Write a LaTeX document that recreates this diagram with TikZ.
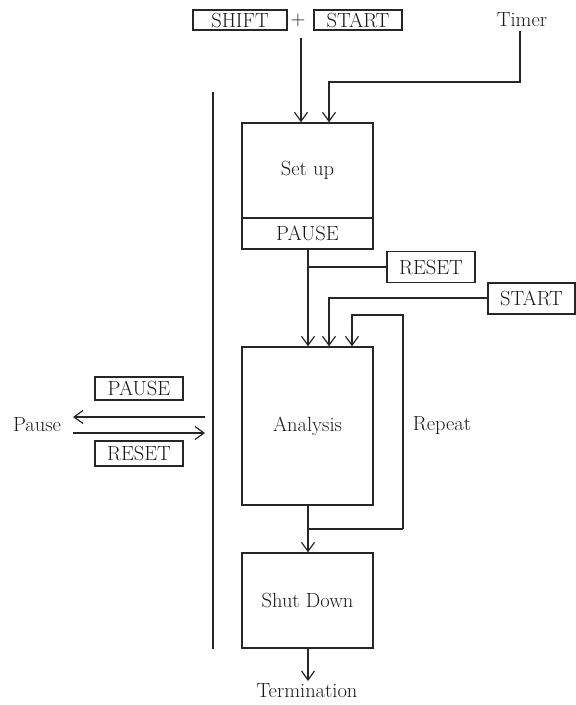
\documentclass[tikz,border=0pt]{standalone}
\usetikzlibrary{arrows.meta}
\begin{document}
\begin{tikzpicture}[x=1pt,y=-1pt,
  every node/.style={font=\fontsize{20.5}{23}\selectfont, inner sep=0pt, text=black!90},
  line/.style={line width=1.2pt, draw=black!85},
  arr/.style={line, -{Straight Barb[length=9pt,width=13pt,line width=1.2pt]}},
  keybox/.style={draw=black!85, line width=1.1pt, minimum height=20pt, inner xsep=4pt},
  blockbox/.style={draw=black!85, line width=1.4pt}
]
\useasboundingbox (0,0) rectangle (576,705);
% top keys
\node[keybox, minimum width=94pt] (shift) at (240,20) {SHIFT};
\node (plus) at (298,20) {+};
\node[keybox, minimum width=88pt] (start1) at (358,20) {START};
\node (timer) at (522,20) {Timer};
% blocks
\node[blockbox, minimum width=131pt, minimum height=126pt] (setup) at (307.5,186) {};
\node (setuptext) at (307.5,170) {Set up};
\draw[line] (242,218) coordinate (dl) -- (373,218) coordinate (dr);
\node (pause1) at (307.5,233) {PAUSE};
\node[blockbox, minimum width=131pt, minimum height=158pt] (analysis) at (307.5,426) {Analysis};
\node[blockbox, minimum width=131pt, minimum height=95pt] (shut) at (307.5,600.5) {Shut Down};
\node (term) at (307,691) {Termination};
% side keys
\node[keybox, minimum width=88pt, minimum height=31pt] (reset1) at (431,267) {RESET};
\node[keybox, minimum width=87pt, minimum height=31pt] (start2) at (531.5,298.5) {START};
\node (repeat) at (442,425) {Repeat};
% left side
\node[keybox, minimum width=88pt, minimum height=23pt] (pause2) at (139,388.5) {PAUSE};
\node[keybox, minimum width=88pt, minimum height=25pt] (reset2) at (139,453.5) {RESET};
\node (pausetxt) at (37,425) {Pause};
% long vertical line
\coordinate (vtop) at (213,92);
\coordinate (vbot) at (213,649);
\draw[line] (vtop) -- (vbot);
\coordinate (la) at (205,417);
\coordinate (lb) at (73,417);
\coordinate (lc) at (73,433);
\coordinate (ld) at (205,433);
\draw[arr] (la) -- (lb);
\draw[arr] (lc) -- (ld);
% inputs to setup
\coordinate (s1) at (301,38);
\draw[arr] (s1) -- (s1 |- setup.north);
\coordinate (t0) at (520,31);
\coordinate (t1) at (520,82);
\coordinate (t2) at (329,82);
\draw[arr] (t0) -- (t1) -- (t2) -- (t2 |- setup.north);
% setup to analysis
\coordinate (a1) at (308,249);
\coordinate (r1) at (308,267);
\draw[arr] (a1) -- (a1 |- analysis.north);
\draw[line] (r1) -- (reset1.west);
\coordinate (st1) at (329,298);
\draw[arr] (start2.west |- st1) -- (st1) -- (st1 |- analysis.north);
\coordinate (rp0) at (403,529);
\coordinate (rp1) at (403,315);
\coordinate (rp2) at (352,315);
\draw[arr] (rp0) -- (rp1) -- (rp2) -- (rp2 |- analysis.north);
% analysis to shut down
\coordinate (b0) at (308,505);
\coordinate (b1) at (308,529);
\draw[line] (b0) -- (b1) -- (rp0);
\draw[arr] (b1) -- (b1 |- shut.north);
\coordinate (e0) at (308,648);
\coordinate (e1) at (308,681);
\draw[arr] (e0) -- (e1);
\end{tikzpicture}
\end{document}
